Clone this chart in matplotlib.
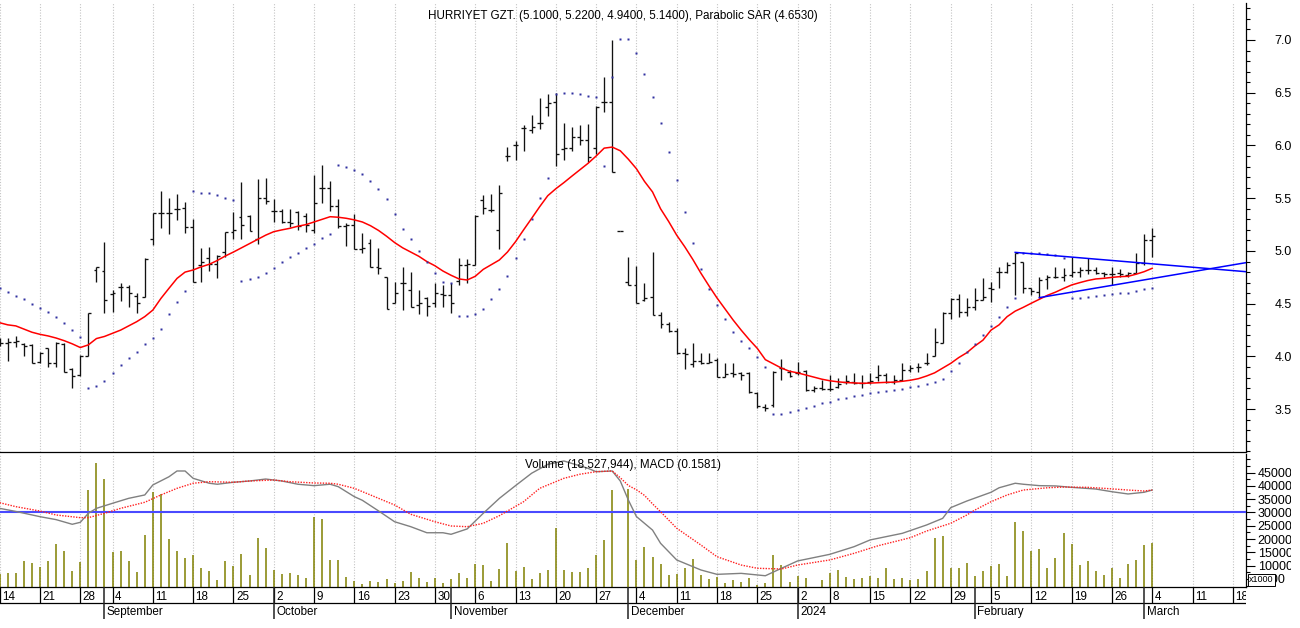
import numpy as np
import pandas as pd
import matplotlib
matplotlib.use("Agg")
import matplotlib.pyplot as plt
from matplotlib.collections import LineCollection
from matplotlib.transforms import offset_copy, Bbox

plt.rcParams['font.family'] = ['Liberation Sans', 'DejaVu Sans']

title_main = "HURRIYET GZT. (5.1000, 5.2200, 4.9400, 5.1400), Parabolic SAR (4.6530)"
title_low = "Volume (18,527,944), MACD (0.1581)"

first_day = '2023-08-14'
last_cal_day = '2024-03-22'
holidays = ['2023-08-30', '2024-01-01']

opens = [4.14, 4.131, 4.134, 4.118, 4.112, 3.951, 4.077, 3.942, 4.118, 3.878,
         3.825, 4.008, 4.82, 4.81, 4.592, 4.656, 4.656, 4.573, 4.567, 5.11,
         5.363, 5.363, 5.401, 5.404, 5.231, 4.867, 4.931, 4.88, 4.994, 5.183,
         5.325, 5.332, 5.111, 5.505, 5.379, 5.379, 5.278, 5.373, 5.332, 5.199,
         5.594, 5.594, 5.427, 5.237, 5.246, 5.022, 5.073, 4.851, 4.757, 4.504,
         4.70, 4.63, 4.488, 4.551, 4.504, 4.592, 4.583, 4.719, 4.867, 4.867,
         5.483, 5.389, 5.199, 5.90, 6.005, 6.163, 6.147, 6.21, 6.368, 6.415,
         5.964, 5.973, 6.077, 6.052, 5.973, 6.415, 6.415, 5.193, 4.703, 4.678,
         4.535, 4.561, 4.393, 4.308, 4.242, 4.03, 3.929, 3.957, 3.941, 3.967,
         3.803, 3.84, 3.84, 3.847, 3.657, 3.525, 3.54, 3.888, 3.856, 3.84,
         3.866, 3.682, 3.698, 3.689, 3.714, 3.761, 3.761, 3.752, 3.761, 3.809,
         3.825, 3.761, 3.777, 3.872, 3.904, 3.935, 4.0, 4.131, 4.415, 4.542,
         4.425, 4.466, 4.536, 4.646, 4.804, 4.804, 4.883, 4.899, 4.646, 4.615,
         4.731, 4.757, 4.75, 4.773, 4.804, 4.82, 4.82, 4.795, 4.782, 4.788,
         4.773, 4.795, 4.883, 5.10]
highs = [4.18, 4.172, 4.197, 4.125, 4.118, 4.046, 4.084, 4.134, 4.125, 3.894,
         4.014, 4.415, 4.851, 5.088, 4.63, 4.70, 4.678, 4.605, 4.93, 5.363,
         5.572, 5.499, 5.54, 5.468, 5.30, 5.032, 5.035, 4.96, 5.177, 5.373,
         5.657, 5.341, 5.679, 5.689, 5.49, 5.395, 5.395, 5.379, 5.363, 5.72,
         5.815, 5.667, 5.49, 5.262, 5.348, 5.167, 5.111, 5.025, 4.757, 4.709,
         4.851, 4.804, 4.63, 4.567, 4.693, 4.678, 4.693, 4.93, 4.921, 5.341,
         5.531, 5.54, 5.625, 5.983, 6.046, 6.194, 6.289, 6.447, 6.488, 6.501,
         6.21, 6.172, 6.194, 6.204, 6.374, 6.652, 7.0, 5.193, 4.94, 4.858,
         4.70, 4.994, 4.42, 4.33, 4.273, 4.077, 4.131, 4.03, 4.036, 3.983,
         3.941, 3.941, 3.856, 3.856, 3.667, 3.55, 3.866, 3.973, 3.872, 3.951,
         3.872, 3.72, 3.777, 3.825, 3.793, 3.825, 3.84, 3.825, 3.84, 3.919,
         3.847, 3.825, 3.935, 3.919, 3.935, 4.036, 4.267, 4.425, 4.551, 4.592,
         4.551, 4.646, 4.741, 4.709, 4.851, 4.899, 4.984, 4.899, 4.646, 4.757,
         4.773, 4.851, 4.836, 4.94, 4.851, 4.93, 4.851, 4.804, 4.845, 4.826,
         4.804, 4.978, 5.161, 5.22]
lows = [4.10, 3.957, 4.093, 4.008, 3.942, 3.935, 3.904, 3.904, 3.85, 3.704,
        3.818, 4.008, 4.703, 4.415, 4.425, 4.529, 4.466, 4.415, 4.567, 5.057,
        5.221, 5.161, 5.294, 5.174, 4.709, 4.709, 4.814, 4.741, 4.946, 5.111,
        5.111, 5.19, 5.063, 5.445, 5.278, 5.268, 5.224, 5.199, 5.183, 5.167,
        5.452, 5.382, 5.215, 5.047, 5.022, 4.978, 4.851, 4.782, 4.447, 4.504,
        4.441, 4.472, 4.403, 4.384, 4.472, 4.472, 4.415, 4.678, 4.70, 4.867,
        5.347, 5.373, 5.016, 5.856, 5.862, 5.951, 6.115, 6.153, 6.279, 5.806,
        5.862, 5.951, 6.005, 5.847, 5.919, 6.321, 5.752, 5.193, 4.678, 4.51,
        4.529, 4.393, 4.267, 4.235, 4.023, 3.878, 3.897, 3.929, 3.935, 3.803,
        3.803, 3.809, 3.777, 3.657, 3.509, 3.487, 3.524, 3.777, 3.809, 3.825,
        3.676, 3.667, 3.682, 3.676, 3.698, 3.739, 3.739, 3.698, 3.739, 3.771,
        3.752, 3.739, 3.771, 3.856, 3.856, 3.919, 4.0, 4.131, 4.352, 4.378,
        4.384, 4.441, 4.536, 4.52, 4.646, 4.788, 4.583, 4.599, 4.583, 4.558,
        4.637, 4.741, 4.716, 4.757, 4.757, 4.782, 4.782, 4.757, 4.678, 4.757,
        4.757, 4.788, 4.867, 4.94]
closes = [4.13, 4.14, 4.147, 4.099, 3.942, 4.03, 3.935, 4.125, 3.856, 3.818,
          4.008, 4.415, 4.85, 4.535, 4.605, 4.656, 4.599, 4.504, 4.92, 5.363,
          5.363, 5.357, 5.401, 5.231, 4.709, 4.899, 4.877, 4.95, 5.177, 5.199,
          5.246, 5.19, 5.505, 5.474, 5.379, 5.278, 5.262, 5.237, 5.246, 5.452,
          5.594, 5.427, 5.237, 5.246, 5.022, 5.025, 4.851, 4.836, 4.447, 4.599,
          4.70, 4.472, 4.504, 4.479, 4.599, 4.583, 4.51, 4.867, 4.877, 5.332,
          5.404, 5.389, 5.553, 5.90, 6.005, 6.163, 6.178, 6.216, 6.406, 5.919,
          5.973, 6.077, 6.052, 5.894, 6.368, 6.415, 5.752, 5.193, 4.678, 4.51,
          4.551, 4.393, 4.308, 4.242, 4.03, 4.023, 3.957, 3.941, 3.951, 3.803,
          3.834, 3.834, 3.825, 3.667, 3.531, 3.509, 3.856, 3.888, 3.815, 3.85,
          3.682, 3.698, 3.689, 3.689, 3.739, 3.771, 3.752, 3.746, 3.771, 3.825,
          3.761, 3.777, 3.872, 3.888, 3.904, 3.941, 4.141, 4.415, 4.542, 4.425,
          4.466, 4.536, 4.561, 4.64, 4.804, 4.867, 4.984, 4.646, 4.624, 4.725,
          4.757, 4.75, 4.773, 4.804, 4.82, 4.82, 4.795, 4.782, 4.782, 4.782,
          4.795, 4.883, 5.104, 5.14]
volume_k = [7000, 7142, 7142, 11766, 10900, 9510, 11766, 18156, 15525, 8007,
            11500, 38455, 48490, 42590, 15262, 15525, 11766, 7745, 21540, 37590,
            36840, 20036, 15525, 13006, 14021, 9247, 8007, 4624, 11766, 10000,
            14397, 6503, 20525, 16652, 8383, 6992, 7368, 6503, 5488, 28418,
            27554, 12142, 12142, 5751, 4248, 3120, 4248, 3872, 4999, 3496,
            4248, 7631, 5375, 3872, 5375, 3496, 4999, 7255, 5375, 10638,
            10262, 4248, 8759, 18532, 8007, 9510, 4999, 7255, 8383, 24170,
            8383, 7631, 7631, 9134, 14021, 19659, 38455, 500, 38830, 12142,
            17028, 13270, 10638, 6503, 6879, 9134, 12518, 6503, 4999, 5751,
            3496, 4624, 3872, 5375, 2744, 3496, 14021, 10262, 3872, 6127,
            5375, 1500, 4624, 7255, 8383, 5751, 4999, 5375, 6127, 5375,
            9134, 4999, 5375, 4624, 4999, 8007, 20411, 21163, 9134, 9134,
            11014, 6127, 8007, 9886, 10638, 6127, 26427, 23170, 15525, 16164,
            9134, 12894, 22418, 18043, 10262, 11766, 8007, 6503, 9134, 5375,
            10638, 12142, 17780, 18528]
ma = [4.32, 4.30, 4.29, 4.26, 4.23, 4.21, 4.195, 4.175, 4.15, 4.12,
      4.085, 4.11, 4.17, 4.19, 4.22, 4.25, 4.29, 4.33, 4.378, 4.44,
      4.55, 4.646, 4.74, 4.80, 4.82, 4.85, 4.874, 4.91, 4.953, 4.99,
      5.03, 5.07, 5.11, 5.15, 5.183, 5.20, 5.215, 5.235, 5.25, 5.275,
      5.30, 5.325, 5.32, 5.31, 5.295, 5.275, 5.24, 5.195, 5.14, 5.08,
      5.03, 4.99, 4.95, 4.90, 4.86, 4.81, 4.77, 4.735, 4.725, 4.76,
      4.826, 4.87, 4.915, 4.99, 5.088, 5.20, 5.309, 5.42, 5.524, 5.59,
      5.648, 5.71, 5.77, 5.831, 5.90, 5.975, 5.985, 5.95, 5.87, 5.78,
      5.66, 5.56, 5.40, 5.28, 5.15, 5.04, 4.92, 4.79, 4.67, 4.555,
      4.45, 4.346, 4.25, 4.16, 4.077, 3.97, 3.93, 3.89, 3.86, 3.845,
      3.825, 3.805, 3.785, 3.77, 3.76, 3.753, 3.75, 3.746, 3.748, 3.752,
      3.755, 3.757, 3.765, 3.775, 3.79, 3.815, 3.845, 3.89, 3.935, 3.99,
      4.036, 4.10, 4.155, 4.25, 4.30, 4.378, 4.43, 4.466, 4.505, 4.542,
      4.58, 4.61, 4.645, 4.678, 4.70, 4.72, 4.735, 4.741, 4.75, 4.757,
      4.76, 4.78, 4.804, 4.836]
sar = [4.65, 4.615, 4.577, 4.542, 4.498, 4.463, 4.425, 4.371, 4.314, 4.251,
       4.182, 3.698, 3.72, 3.768, 3.847, 3.919, 3.982, 4.046, 4.118, 4.172,
       4.264, 4.40, 4.52, 4.624, 5.572, 5.553, 5.546, 5.528, 5.506, 5.483,
       4.719, 4.738, 4.757, 4.788, 4.836, 4.896, 4.94, 4.978, 5.025, 5.066,
       5.12, 5.158, 5.818, 5.799, 5.768, 5.727, 5.667, 5.584, 5.49, 5.348,
       5.212, 5.111, 5.003, 4.893, 4.795, 4.706, 4.693, 4.384, 4.384, 4.403,
       4.453, 4.548, 4.643, 4.763, 4.93, 5.11, 5.306, 5.505, 5.695, 6.488,
       6.501, 6.501, 6.488, 6.469, 6.456, 5.806, 6.652, 7.006, 7.006, 6.874,
       6.678, 6.456, 6.21, 5.941, 5.67, 5.366, 5.079, 4.829, 4.643, 4.491,
       4.352, 4.235, 4.15, 4.077, 3.995, 3.90, 3.455, 3.455, 3.477, 3.493,
       3.515, 3.534, 3.556, 3.572, 3.594, 3.61, 3.626, 3.638, 3.651, 3.667,
       3.676, 3.682, 3.692, 3.708, 3.72, 3.739, 3.761, 3.784, 3.862, 3.941,
       4.039, 4.118, 4.20, 4.292, 4.378, 4.472, 4.558, 4.984, 4.984, 4.984,
       4.975, 4.96, 4.937, 4.558, 4.558, 4.567, 4.574, 4.583, 4.592, 4.599,
       4.605, 4.621, 4.637, 4.653]

macd_day = [0, 2, 5, 7, 9, 10, 11, 12, 14, 16, 18, 19, 21, 22, 23, 24, 26, 27, 29, 31,
            33, 35, 37, 39, 41, 42, 44, 45, 47, 49, 51, 53, 55, 56, 58, 60, 62, 64, 66, 68,
            70, 73, 74, 76, 77, 78, 79, 81, 82, 84, 87, 89, 92, 95, 97, 99, 103, 106, 108, 112,
            115, 117, 118, 120, 123, 124, 126, 127, 129, 131, 133, 136, 138, 140, 142, 143]
macd_val = [0.028, 0.006, -0.031, -0.052, -0.085, -0.071, -0.007, 0.028, 0.064, 0.099,
            0.123, 0.194, 0.252, 0.293, 0.293, 0.241, 0.206, 0.199, 0.213, 0.222,
            0.236, 0.222, 0.199, 0.189, 0.199, 0.182, 0.111, 0.085, 0.010, -0.067,
            -0.102, -0.145, -0.145, -0.156, -0.118, -0.007, 0.099, 0.189, 0.277, 0.340,
            0.364, 0.312, 0.288, 0.293, 0.222, 0.087, -0.03, -0.126, -0.220, -0.338,
            -0.409, -0.440, -0.433, -0.450, -0.397, -0.345, -0.298, -0.244, -0.196, -0.149,
            -0.090, -0.043, 0.033, 0.080, 0.142, 0.174, 0.206, 0.199, 0.189, 0.187,
            0.177, 0.165, 0.146, 0.130, 0.142, 0.158]
signal_day = [0, 2, 5, 7, 10, 11, 13, 15, 18, 20, 22, 24, 26, 29, 31, 34, 36, 39, 41, 42,
              44, 46, 49, 51, 54, 56, 58, 60, 62, 65, 67, 70, 72, 74, 76, 77, 78, 79, 80, 81,
              82, 84, 87, 89, 92, 94, 97, 99, 103, 106, 109, 113, 115, 118, 120, 121, 123, 125, 127, 130,
              132, 135, 137, 140, 142, 143]
signal_val = [0.068, 0.040, 0.009, -0.019, -0.038, -0.038, -0.007, 0.028, 0.071, 0.123,
              0.170, 0.206, 0.217, 0.213, 0.222, 0.229, 0.217, 0.208, 0.206, 0.199,
              0.170, 0.123, 0.052, -0.014, -0.067, -0.097, -0.102, -0.078, -0.024, 0.075,
              0.170, 0.241, 0.270, 0.288, 0.293, 0.245, 0.19, 0.16, 0.12, 0.06,
              0.004, -0.113, -0.232, -0.315, -0.374, -0.397, -0.402, -0.374, -0.338, -0.291,
              -0.237, -0.180, -0.133, -0.078, -0.019, 0.016, 0.075, 0.123, 0.158, 0.174,
              0.179, 0.177, 0.170, 0.158, 0.151, 0.158]

trend_upper_day = [126, 154.6]
trend_upper_price = [4.987, 4.804]
trend_lower_day = [129, 154.6]
trend_lower_price = [4.558, 4.889]

# ---------------- calendar ----------------
cal = pd.bdate_range(first_day, last_cal_day)
cal = cal[~cal.isin(pd.to_datetime(holidays))]
week_pos, week_lab, month_pos, month_lab = [], [], [], []
for i, d in enumerate(cal):
    if i == 0 or d.weekday() <= cal[i - 1].weekday():
        week_pos.append(i)
        week_lab.append(str(d.day))
    if i > 0 and d.month != cal[i - 1].month:
        month_pos.append(i)
        month_lab.append(str(d.year) if d.month == 1 else d.strftime('%B'))

days = np.arange(len(opens))

# ---------------- figure ----------------
W, H = 1300, 628
fig = plt.figure(figsize=(W / 100, H / 100), dpi=100)


def box(x0, y0, x1, y1):
    return [x0 / W, 1 - y1 / H, (x1 - x0) / W, (y1 - y0) / H]


XL = (0.037, 154.6)
RIGHT = 1245.7
ax = fig.add_axes(box(0, 3, RIGHT, 452.3))
axv = fig.add_axes(box(0, 453.5, RIGHT, 587.3))
axm = axv.twinx()
axd = fig.add_axes(box(0, 587.3, RIGHT, 619))

grid_kw = dict(color='#c4c4c4', lw=0.8, ls=(0, (1, 1.5)), zorder=0)
label_clip = Bbox.from_extents(0, 0, 1291, H)

# ---- price panel ----
ax.set_xlim(*XL)
ax.set_ylim(3.0919, 7.3507)
for p in week_pos:
    ax.axvline(p, **grid_kw)
tk = 0.36
segs = []
for i, (o, h, l, c) in enumerate(zip(opens, highs, lows, closes)):
    segs.append([(i, l), (i, h)])
    segs.append([(i - tk, o), (i, o)])
    segs.append([(i, c), (i + tk, c)])
ax.add_collection(LineCollection(segs, colors='#111111', linewidths=0.95, zorder=3))
ax.plot(days, ma, color='#ff0000', lw=1.1, zorder=4)
ax.plot(days, sar, ls='none', marker='s', ms=1.5, color='#3030a0', mec='none', zorder=4)
ax.plot(trend_upper_day, trend_upper_price, color='#0000ff', lw=1.1, zorder=5)
ax.plot(trend_lower_day, trend_lower_price, color='#0000ff', lw=1.1, zorder=5)

for s in ['left', 'top']:
    ax.spines[s].set_visible(False)
for s in ['right', 'bottom']:
    ax.spines[s].set_linewidth(0.9)
ax.tick_params(axis='x', which='both', bottom=False, labelbottom=False)
ax.set_yticks(np.arange(3.5, 7.01, 0.5))
ax.set_yticks(np.arange(3.1, 7.35, 0.1), minor=True)
ax.set_yticklabels([f'{v:.1f}' for v in np.arange(3.5, 7.01, 0.5)])
ax.tick_params(axis='y', which='both', left=False, labelleft=False, right=True, labelright=True)
ax.tick_params(axis='y', which='major', direction='out', length=6.7, width=0.8,
               pad=14, labelsize=9)
ax.tick_params(axis='y', which='minor', direction='out', length=3.1, width=0.8)
fig.text(623 / W, 1 - 16.5 / H, title_main, ha='center', va='center', fontsize=8.4)

# ---- volume / MACD panel ----
axv.set_xlim(*XL)
axv.set_ylim(1880, 52175)
for p in week_pos:
    axv.axvline(p, **grid_kw)
axv.vlines(days, 0, volume_k, color='#808000', lw=1.1, zorder=2)
for s in ['left', 'top']:
    axv.spines[s].set_visible(False)
for s in ['right', 'bottom']:
    axv.spines[s].set_linewidth(0.9)
axv.tick_params(axis='x', which='both', bottom=False, labelbottom=False)
vt = np.arange(5000, 45001, 5000)
axv.set_yticks(vt)
axv.set_yticklabels([str(v) for v in vt])
axv.set_yticks(np.arange(2500, 52000, 2500), minor=True)
axv.tick_params(axis='y', which='both', left=False, labelleft=False, right=True, labelright=True)
axv.tick_params(axis='y', which='major', direction='out', length=6.7, width=0.8,
                pad=2, labelsize=9)
axv.tick_params(axis='y', which='minor', direction='out', length=3.1, width=0.8)

for a in (ax, axv):
    for lab in a.get_yticklabels():
        lab.set_clip_box(label_clip)
        lab.set_clip_on(True)

axm.set_xlim(*XL)
axm.set_ylim((512.3 - 587.3) / 141, (512.3 - 453.5) / 141)
axm.axis('off')
axm.axhline(0, color='#4a4aff', lw=1.5, zorder=1)
axm.plot(macd_day, macd_val, color='#808080', lw=1.0, zorder=3)
axm.plot(signal_day, signal_val, color='#ff2020', lw=1.0, ls=(0, (1, 1)), zorder=3)
fig.text(623 / W, 1 - 465 / H, title_low, ha='center', va='center', fontsize=8.4)
fig.text(1249 / W, 1 - 580 / H, 'x1000', ha='left', va='center', fontsize=6.5, zorder=10,
         bbox=dict(boxstyle='square,pad=0.15', fc='white', ec='black', lw=0.7))

# ---- date band ----
axd.set_xlim(*XL)
axd.set_ylim(0, 1)
axd.axis('off')
mid = (619 - 602.7) / (619 - 587.3)
axd.axhline(mid, color='black', lw=0.9)
axd.vlines(week_pos, mid, 1, color='black', lw=0.9)
axd.vlines(month_pos, 0, 1, color='#222222', lw=1.1)
tr = offset_copy(axd.transData, fig=fig, x=2.5, y=0, units='dots')
for p, s in zip(week_pos, week_lab):
    axd.text(p, 0.70, s, transform=tr, ha='left', va='center', fontsize=8.4, clip_on=True)
for p, s in zip(month_pos, month_lab):
    axd.text(p, 0.23, s, transform=tr, ha='left', va='center', fontsize=8.4, clip_on=True)

fig.savefig('out.png', dpi=100)
